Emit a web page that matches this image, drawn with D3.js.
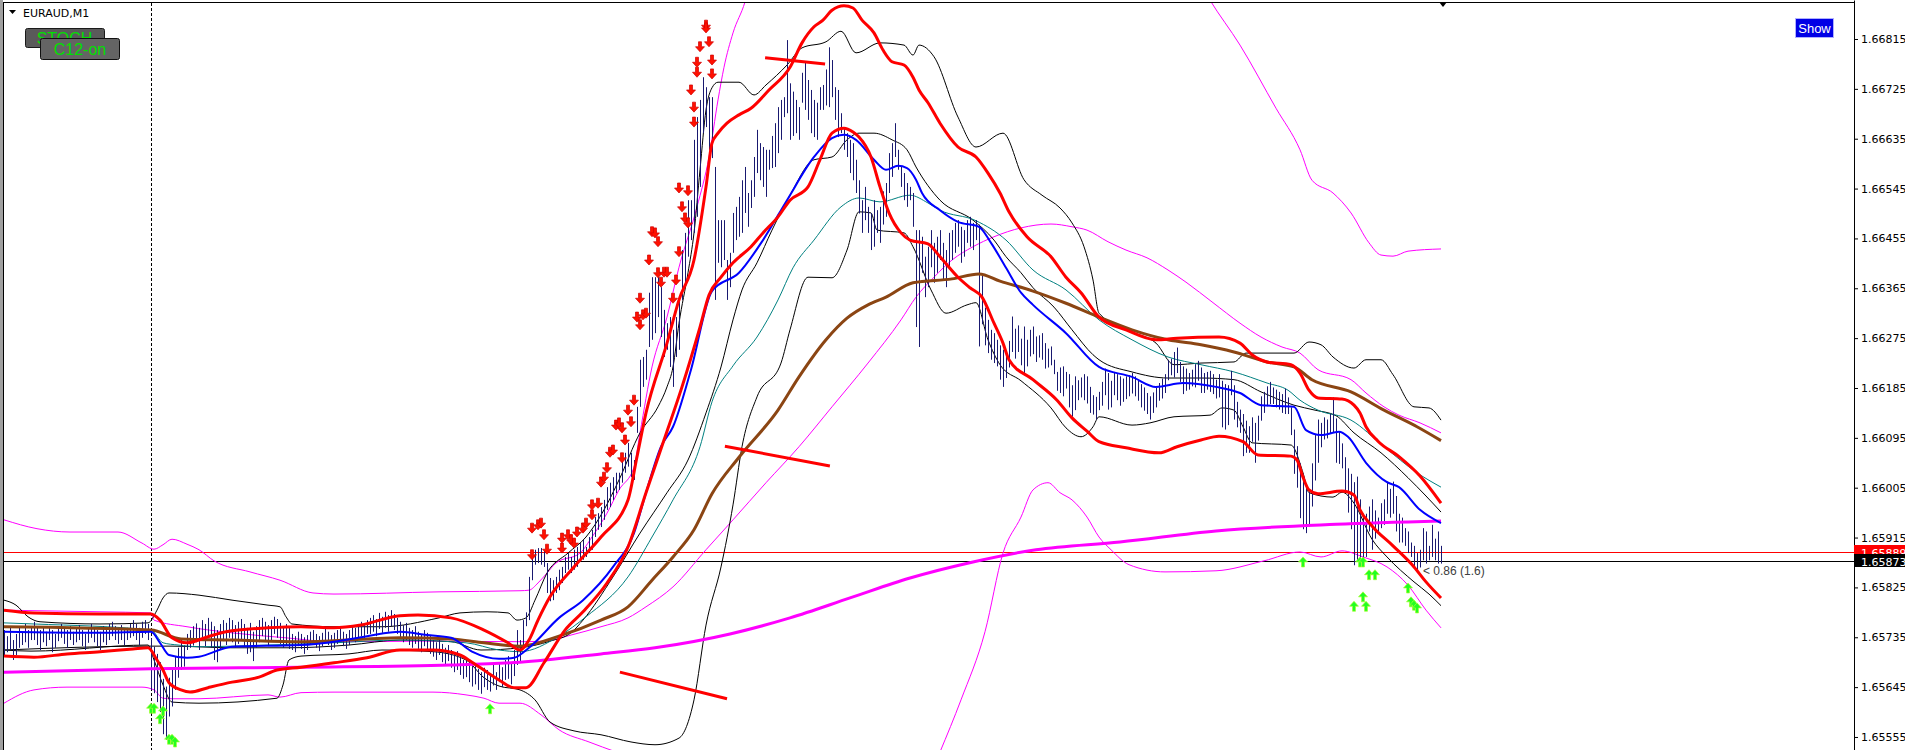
<!DOCTYPE html>
<html>
<head>
<meta charset="utf-8">
<script src="https://cdn.jsdelivr.net/npm/d3@7"></script>
<style>
  html, body { margin: 0; padding: 0; background: #fff; overflow: hidden; }
  svg { display: block; }
</style>
</head>
<body>
<svg id="chart" width="1905" height="750"></svg>
<script>
// all prices are in points above 1.65000 (1 point = 0.00001)
var BASE = 1.65;
var symbol = "EURAUD,M1";
var askPrice = 889;
var bidPrice = 873;
var separatorBar = 49;
var tickValues = [1815, 1725, 1635, 1545, 1455, 1365, 1275, 1185, 1095, 1005, 915, 825, 735, 645, 555];
var spreadText = "< 0.86 (1.6)";

// [high, low] of each M1 bar, oldest first
var bars = [
[748,700],[737,708],[752,712],[730,694],[741,703],[755,716],[745,721],[759,726],[748,716],[752,730],
[763,730],[755,721],[748,712],[752,726],[745,719],[755,730],[748,708],[741,716],[752,728],[759,734],
[752,723],[748,716],[755,730],[745,721],[752,726],[757,730],[748,719],[741,712],[752,725],[759,734],
[752,726],[748,719],[745,712],[755,726],[752,721],[759,730],[763,737],[755,730],[752,723],[757,730],
[748,721],[752,730],[759,734],[766,737],[759,730],[752,721],[763,734],[766,741],[759,730],[733,640],
[718,634],[705,618],[690,600],[660,560],[646,550],[662,592],[680,610],[700,640],[716,662],[730,676],
[720,682],[741,712],[748,716],[755,720],[760,726],[752,712],[766,730],[759,719],[770,737],[763,716],
[755,694],[748,690],[759,712],[766,728],[761,721],[770,734],[766,726],[757,716],[763,723],[768,730],
[759,719],[752,705],[761,708],[745,692],[755,716],[766,726],[770,737],[763,728],[757,719],[766,730],
[772,741],[768,734],[761,723],[755,716],[759,721],[752,714],[741,712],[737,708],[745,719],[741,714],
[735,705],[739,712],[745,721],[748,726],[741,716],[737,710],[743,719],[750,726],[745,721],[739,712],
[743,716],[748,723],[752,728],[745,719],[741,714],[748,721],[755,730],[752,726],[759,734],[763,737],
[757,730],[766,741],[770,741],[775,745],[768,737],[779,750],[772,743],[781,752],[775,745],[784,755],
[777,748],[770,741],[763,734],[757,726],[761,730],[752,721],[748,716],[755,723],[745,714],[741,708],
[748,719],[743,712],[737,705],[730,700],[726,694],[733,703],[723,690],[716,685],[721,692],[712,680],
[705,672],[710,676],[701,667],[694,660],[699,663],[690,654],[683,646],[687,650],[678,640],[672,633],
[680,645],[676,640],[667,637],[685,648],[672,640],[690,654],[681,645],[694,658],[701,660],[690,650],
[712,665],[748,685],[730,690],[766,716],[780,755],[844,766],[884,838],[893,866],[896,869],[896,866],
[893,862],[869,815],[842,800],[838,802],[844,815],[857,820],[862,833],[880,851],[887,857],[880,851],
[893,857],[898,862],[905,875],[911,875],[898,880],[916,887],[929,893],[952,916],[959,929],[970,934],
[983,947],[1006,965],[1014,970],[1024,983],[1032,995],[1032,1001],[1055,1014],[1068,1032],[1086,1043],[1068,1024],
[1055,1019],[1151,1104],[1236,1151],[1241,1187],[1254,1200],[1357,1259],[1385,1272],[1385,1284],[1385,1313],[1367,1277],
[1326,1241],[1302,1254],[1313,1223],[1290,1187],[1313,1241],[1349,1254],[1434,1344],[1465,1375],[1524,1422],[1524,1452],
[1633,1465],[1674,1494],[1705,1548],[1746,1645],[1728,1656],[1710,1615],[1710,1600],[1584,1344],[1488,1411],[1488,1403],
[1488,1416],[1416,1344],[1429,1367],[1501,1429],[1512,1452],[1530,1458],[1560,1465],[1584,1501],[1537,1476],[1560,1510],
[1602,1530],[1651,1573],[1627,1560],[1620,1548],[1615,1530],[1615,1579],[1640,1582],[1663,1584],[1692,1609],[1705,1633],
[1710,1674],[1813,1681],[1735,1633],[1720,1640],[1705,1645],[1692,1633],[1754,1700],[1772,1687],[1741,1669],[1723,1645],
[1705,1638],[1700,1633],[1728,1687],[1732,1687],[1760,1695],[1800,1692],[1777,1710],[1728,1669],[1723,1638],[1681,1645],
[1656,1615],[1645,1602],[1633,1573],[1627,1560],[1597,1537],[1560,1500],[1524,1465],[1548,1488],[1512,1465],[1501,1434],
[1524,1440],[1506,1465],[1512,1447],[1540,1480],[1555,1494],[1609,1537],[1627,1566],[1663,1602],[1615,1579],[1584,1548],
[1573,1524],[1555,1512],[1548,1524],[1537,1476],[1470,1295],[1470,1259],[1458,1393],[1422,1349],[1440,1367],[1470,1403],
[1447,1375],[1458,1393],[1470,1416],[1447,1380],[1434,1367],[1465,1403],[1470,1416],[1483,1429],[1488,1440],[1476,1411],
[1470,1422],[1488,1447],[1494,1440],[1483,1434],[1488,1452],[1480,1260],[1392,1300],[1330,1262],[1308,1248],[1290,1236],
[1284,1230],[1272,1224],[1262,1200],[1254,1187],[1245,1203],[1270,1222],[1314,1250],[1292,1238],[1298,1250],[1274,1226],
[1296,1208],[1272,1224],[1290,1242],[1296,1246],[1278,1232],[1280,1240],[1284,1236],[1266,1220],[1256,1222],[1260,1226],
[1236,1210],[1214,1180],[1222,1176],[1224,1170],[1214,1184],[1210,1150],[1190,1133],[1206,1145],[1199,1163],[1204,1168],
[1210,1163],[1206,1157],[1187,1140],[1172,1137],[1169,1128],[1178,1145],[1196,1153],[1220,1172],[1212,1146],[1198,1150],
[1214,1172],[1210,1163],[1206,1153],[1202,1160],[1206,1165],[1208,1170],[1212,1175],[1206,1170],[1200,1162],[1192,1150],
[1186,1144],[1176,1138],[1170,1128],[1177,1140],[1185,1150],[1194,1162],[1202,1166],[1210,1176],[1236,1199],[1238,1208],
[1250,1204],[1258,1212],[1232,1196],[1224,1174],[1220,1180],[1212,1182],[1218,1188],[1228,1186],[1234,1198],[1222,1176],
[1212,1176],[1214,1182],[1216,1178],[1210,1174],[1200,1166],[1210,1168],[1198,1114],[1192,1110],[1190,1118],[1216,1172],
[1190,1128],[1160,1114],[1146,1104],[1138,1062],[1126,1068],[1116,1068],[1132,1088],[1122,1050],[1135,1090],[1170,1126],
[1178,1140],[1188,1152],[1196,1156],[1186,1156],[1182,1150],[1178,1146],[1174,1140],[1184,1138],[1168,1138],[1150,1100],
[1110,1030],[1080,1005],[1049,950],[1030,930],[1010,923],[998,935],[1049,971],[1100,1018],[1128,1050],[1122,1078],
[1132,1092],[1128,1094],[1138,1102],[1168,1104],[1130,1050],[1106,1048],[1085,1040],[1060,1000],[1040,960],[1030,930],
[1015,865],[1025,874],[984,868],[958,874],[958,880],[971,926],[984,893],[964,913],[951,926],[977,932],
[984,938],[1016,958],[1003,951],[1016,958],[990,926],[958,906],[951,906],[932,900],[926,887],[906,880],
[900,861],[887,855],[893,861],[932,874],[926,868],[900,874],[938,880],[913,874],[926,868],[900,868]
];

// indicator lines as [bar, price] points
var ma200 = [[0,672],[49,678],[99,681],[149,685],[172,690],[199,705],[217,716],[242,741],[262,770],[282,806],[302,842],[323,871],[344,893],[372,907],[404,927],[444,939],[479,945]];

var maSlow = [[0,754],[49,748],[59,732],[76,730],[99,727],[121,732],[132,734],[149,732],[160,725],[172,719],[185,737],[199,766],[208,790],[216,838],[223,880],[230,929],[236,994],[245,1060],[258,1145],[265,1205],[274,1272],[281,1311],[288,1335],[294,1349],[303,1375],[316,1382],[325,1391],[332,1378],[343,1360],[354,1338],[365,1313],[376,1290],[388,1272],[399,1263],[410,1250],[421,1232],[430,1223],[436,1200],[449,1178],[460,1145],[471,1115],[479,1090]];

var maFast = [[0,745],[32,743],[49,745],[52,725],[55,703],[61,698],[65,700],[76,718],[99,721],[110,727],[121,737],[132,745],[141,739],[149,734],[156,709],[165,696],[170,698],[175,716],[185,770],[193,802],[203,862],[210,923],[214,996],[219,1079],[223,1115],[229,1218],[236,1360],[245,1393],[253,1452],[261,1524],[270,1602],[276,1636],[280,1642],[284,1633],[290,1597],[294,1579],[298,1586],[301,1582],[304,1561],[306,1537],[312,1506],[318,1485],[325,1476],[329,1447],[334,1402],[339,1357],[343,1335],[354,1284],[365,1223],[376,1205],[384,1187],[393,1194],[404,1187],[412,1176],[419,1154],[430,1151],[434,1109],[439,1100],[445,1106],[448,1097],[454,1050],[461,1015],[465,1006],[472,965],[479,941]];

var maMid = [[0,761],[10,759],[49,748],[53,725],[58,721],[65,718],[88,721],[110,725],[132,730],[154,725],[165,712],[172,709],[185,737],[194,772],[208,844],[216,916],[223,983],[232,1079],[236,1160],[243,1225],[251,1277],[258,1344],[263,1402],[270,1452],[279,1512],[285,1528],[292,1521],[302,1533],[308,1519],[312,1506],[324,1487],[334,1452],[343,1398],[354,1362],[365,1308],[376,1272],[388,1241],[399,1227],[410,1214],[421,1194],[428,1181],[432,1163],[438,1145],[449,1127],[460,1079],[471,1032],[479,1006]];

var redUpper = [[0,784],[10,779],[32,777],[49,777],[52,766],[56,734],[61,725],[68,736],[74,745],[88,752],[99,754],[110,752],[119,757],[132,774],[138,775],[149,770],[160,748],[168,725],[172,712],[175,730],[178,766],[182,808],[190,862],[199,916],[208,983],[211,1061],[214,1140],[221,1266],[225,1344],[230,1416],[234,1548],[236,1627],[238,1645],[241,1663],[245,1678],[249,1690],[255,1723],[262,1764],[266,1808],[270,1837],[273,1849],[276,1867],[280,1875],[283,1871],[286,1849],[290,1826],[293,1795],[296,1774],[300,1768],[303,1746],[305,1723],[308,1700],[312,1663],[318,1620],[324,1602],[328,1573],[332,1537],[335,1503],[341,1458],[349,1422],[354,1385],[359,1357],[365,1313],[374,1290],[384,1272],[391,1275],[405,1277],[412,1266],[416,1245],[421,1232],[429,1227],[432,1212],[435,1181],[438,1167],[446,1165],[450,1154],[452,1140],[454,1115],[458,1089],[465,1061],[472,1026],[479,977]];

var redLower = [[0,701],[10,699],[21,705],[32,709],[43,714],[48,716],[51,694],[53,676],[55,653],[59,640],[62,636],[68,644],[76,654],[85,663],[91,676],[99,681],[110,689],[121,698],[132,712],[143,712],[152,703],[156,690],[161,672],[165,658],[170,644],[174,644],[180,689],[187,748],[193,781],[201,833],[208,898],[214,996],[220,1091],[226,1187],[232,1295],[235,1353],[239,1385],[243,1411],[249,1440],[253,1465],[258,1494],[262,1524],[268,1548],[272,1597],[276,1645],[280,1654],[283,1647],[285,1638],[289,1602],[292,1548],[295,1501],[299,1465],[302,1452],[308,1445],[312,1422],[318,1385],[322,1366],[326,1349],[330,1302],[333,1266],[335,1236],[343,1200],[351,1163],[356,1131],[361,1107],[365,1088],[374,1077],[385,1068],[391,1079],[399,1091],[405,1098],[413,1088],[418,1064],[429,1062],[431,1055],[433,1024],[435,1001],[438,994],[446,999],[450,992],[452,965],[456,936],[463,900],[470,862],[474,835],[479,806]];

var bandUpper = [[0,802],[4,793],[8,772],[12,763],[32,759],[48,761],[51,784],[53,806],[55,815],[65,811],[76,802],[88,793],[92,790],[94,772],[96,759],[110,754],[126,754],[145,770],[152,779],[161,781],[168,779],[171,766],[174,770],[177,802],[181,851],[188,887],[194,916],[200,965],[205,1019],[212,1104],[218,1151],[221,1187],[223,1223],[225,1302],[228,1393],[230,1465],[232,1579],[234,1687],[236,1727],[238,1737],[245,1737],[250,1714],[254,1732],[261,1768],[266,1799],[274,1810],[279,1829],[284,1790],[292,1808],[300,1804],[303,1786],[305,1804],[310,1783],[318,1674],[324,1620],[333,1645],[340,1561],[346,1533],[352,1510],[356,1483],[360,1440],[363,1380],[365,1320],[376,1286],[384,1266],[390,1227],[399,1230],[410,1232],[414,1248],[430,1248],[435,1268],[439,1263],[443,1241],[450,1221],[454,1236],[459,1236],[463,1209],[470,1151],[475,1149],[479,1127]];

var bandMid = [[0,712],[48,719],[56,719],[76,716],[95,716],[115,721],[132,730],[149,727],[159,712],[172,716],[182,728],[189,743],[193,766],[203,844],[212,923],[221,996],[228,1055],[234,1140],[239,1223],[243,1308],[246,1362],[251,1411],[256,1470],[262,1533],[270,1597],[276,1602],[281,1633],[285,1645],[290,1645],[296,1633],[301,1615],[304,1584],[312,1524],[323,1488],[330,1452],[334,1422],[339,1393],[343,1366],[350,1331],[356,1290],[363,1245],[365,1236],[376,1214],[388,1203],[399,1203],[410,1200],[419,1178],[430,1154],[437,1145],[444,1135],[450,1104],[459,1068],[468,1023],[474,990],[479,961]];

var bandLower = [[0,712],[9,710],[48,721],[50,694],[53,649],[56,618],[65,616],[91,625],[93,649],[95,694],[99,701],[115,705],[126,712],[143,709],[154,694],[160,662],[165,647],[172,640],[177,622],[182,582],[190,566],[199,559],[209,546],[217,541],[225,553],[230,622],[234,757],[239,862],[243,974],[246,1079],[251,1169],[259,1230],[262,1290],[268,1385],[276,1384],[281,1434],[285,1503],[289,1501],[291,1470],[300,1465],[303,1440],[309,1362],[314,1320],[321,1335],[324,1339],[328,1272],[332,1227],[339,1198],[349,1149],[354,1113],[359,1097],[363,1115],[365,1133],[376,1118],[382,1122],[390,1133],[402,1136],[406,1149],[410,1145],[413,1115],[416,1086],[429,1082],[433,1032],[435,996],[443,988],[446,997],[450,977],[456,912],[461,880],[470,835],[475,813],[479,792]];

var envOuter = [[0,947],[11,931],[22,925],[38,925],[46,905],[50,894],[53,902],[56,912],[61,903],[65,893],[70,873],[82,853],[92,838],[103,815],[110,813],[145,817],[172,819],[175,820],[178,833],[181,851],[184,869],[192,887],[196,916],[201,959],[205,1001],[210,1042],[212,1104],[216,1223],[221,1313],[225,1403],[231,1512],[235,1602],[238,1705],[240,1764],[243,1826],[247,1882],[249,1922],
  null,
  [400,1903],[402,1885],[412,1804],[424,1690],[432,1615],[436,1560],[443,1537],[449,1501],[455,1447],[459,1425],[463,1423],[468,1432],[479,1436]];

var envInner = [[0,784],[10,783],[32,781],[49,779],[50,766],[61,754],[76,743],[94,734],[110,727],[143,728],[172,727],[180,728],[189,739],[199,754],[208,770],[214,790],[223,826],[234,893],[243,947],[254,1014],[265,1079],[276,1151],[288,1230],[299,1308],[304,1349],[310,1385],[316,1416],[323,1440],[330,1458],[339,1474],[349,1481],[356,1476],[361,1470],[368,1449],[374,1434],[381,1420],[388,1398],[394,1376],[403,1339],[412,1302],[419,1277],[426,1259],[432,1248],[438,1218],[449,1200],[454,1176],[460,1151],[465,1136],[472,1122],[479,1104]];

var envLower = [[0,616],[10,640],[21,645],[32,645],[46,645],[50,640],[53,625],[56,624],[65,624],[88,631],[92,627],[99,635],[110,636],[143,636],[154,631],[160,625],[165,616],[172,616],[179,595],[185,568],[195,546],[204,528],
  null,
  [312,528],[319,622],[327,745],[333,887],[339,952],[343,1001],[348,1014],[352,996],[356,983],[361,952],[365,916],[369,893],[375,866],[387,853],[404,855],[420,873],[432,889],[439,880],[446,891],[453,880],[461,862],[468,829],[474,784],[479,752]];

// hand drawn trend lines
var trendLines = [
  [[253.7,1781],[273.7,1770]],
  [[240.3,1080],[275.3,1044]],
  [[205.3,672],[241,624]]
];

// signal arrows [bar, price]
var sellArrows = [[176,932],[178,938],[179,941],[180,920],[176,884],[181,894],[186,896],[186,914],[188,920],[189,911],[190,905],[191,925],[193,932],[194,941],[196,956],[196,974],[198,977],[199,1015],[200,1024],[201,1041],[202,1069],[203,1073],[206,1059],[207,1091],[204,1118],[205,1122],[206,1113],[208,1145],[209,1124],[210,1163],[212,1347],[211,1313],[212,1299],[213,1317],[214,1320],[215,1416],[218,1393],[220,1394],[221,1394],[219,1376],[224,1380],[223,1347],[225,1431],[216,1467],[217,1465],[218,1449],[226,1512],[227,1492],[228,1483],[234,1840],[234,1835],[232,1801],[235,1810],[231,1773],[236,1777],[231,1755],[236,1752],[229,1723],[230,1692],[230,1665],[225,1546],[228,1541]];

var buyArrows = [[49,616],[50,616],[53,611],[52,597],[55,560],[56,560],[57,555],[162,615],[433,880],[452,880],[453,880],[455,857],[457,857],[453,817],[450,800],[454,800],[468,833],[469,808],[470,802],[471,797]];


var width = 1905, height = 750;
var axisX = 1854;

var svg = d3.select("#chart");

var x = d3.scaleLinear().domain([0, 479]).range([4, 1441]);
var y = d3.scaleLinear().domain([531.5, 1885.4]).range([height, 0]);

function priceText(v) {
    return (BASE + v / 1e5).toFixed(5);
}

svg.append("defs").append("clipPath").attr("id", "plotclip")
    .append("rect").attr("x", 4).attr("y", 3).attr("width", axisX - 4).attr("height", height - 3);

// window frame
svg.append("rect").attr("x", 0).attr("y", 0).attr("width", 3).attr("height", height).attr("fill", "#a0a0a0");
svg.append("line").attr("x1", 3.5).attr("x2", 3.5).attr("y1", 2).attr("y2", height).attr("stroke", "#000");
svg.append("line").attr("x1", 3).attr("x2", axisX).attr("y1", 2.5).attr("y2", 2.5).attr("stroke", "#000");

var plot = svg.append("g").attr("clip-path", "url(#plotclip)");

// period separator
plot.append("line")
    .attr("x1", Math.round(x(separatorBar)) + 0.5).attr("x2", Math.round(x(separatorBar)) + 0.5)
    .attr("y1", 3).attr("y2", height)
    .attr("stroke", "#000").attr("stroke-dasharray", "3,2");

// ask / bid lines
plot.append("line")
    .attr("x1", 4).attr("x2", axisX)
    .attr("y1", Math.round(y(askPrice)) + 0.5).attr("y2", Math.round(y(askPrice)) + 0.5)
    .attr("stroke", "#ff0000");
plot.append("line")
    .attr("x1", 4).attr("x2", axisX)
    .attr("y1", Math.round(y(bidPrice)) + 0.5).attr("y2", Math.round(y(bidPrice)) + 0.5)
    .attr("stroke", "#000");

var lineGen = d3.line()
    .defined(function(d) { return d !== null; })
    .x(function(d) { return x(d[0]); })
    .y(function(d) { return y(d[1]); })
    .curve(d3.curveMonotoneX);

function addLine(data, color, w) {
    plot.append("path")
        .datum(data)
        .attr("d", lineGen)
        .attr("fill", "none")
        .attr("stroke", color)
        .attr("stroke-width", w)
        .attr("stroke-linejoin", "round");
}

addLine(envOuter, "#ff00ff", 1);
addLine(envInner, "#ff00ff", 1);
addLine(envLower, "#ff00ff", 1);
addLine(bandUpper, "#000", 1);
addLine(bandMid, "#000", 1);
addLine(bandLower, "#000", 1);
addLine(maMid, "#008080", 1);

// price bars
plot.selectAll(".bar")
    .data(bars)
    .join("line")
    .attr("class", "bar")
    .attr("x1", function(d, i) { return Math.round(x(i)) + 0.5; })
    .attr("x2", function(d, i) { return Math.round(x(i)) + 0.5; })
    .attr("y1", function(d) { return y(d[0]); })
    .attr("y2", function(d) { return y(d[1]); })
    .attr("stroke", "#191970")
    .attr("stroke-width", 1);

addLine(maSlow, "#8b4513", 3);
addLine(ma200, "#ff00ff", 3);
addLine(maFast, "#0000ff", 2);
addLine(redUpper, "#ff0000", 3);
addLine(redLower, "#ff0000", 3);

trendLines.forEach(function(t) {
    plot.append("path")
        .datum(t)
        .attr("d", d3.line().x(function(d) { return x(d[0]); }).y(function(d) { return y(d[1]); }))
        .attr("stroke", "#ff0000")
        .attr("stroke-width", 3)
        .attr("fill", "none");
});

// arrows
plot.selectAll(".sell")
    .data(sellArrows)
    .join("path")
    .attr("class", "sell")
    .attr("transform", function(d) { return "translate(" + x(d[0]) + "," + y(d[1]) + ")"; })
    .attr("d", "M-1.5,-5H1.5V0H4.5L0,5L-4.5,0H-1.5Z")
    .attr("fill", "#ff1000")
    .attr("stroke", "#d00000")
    .attr("stroke-width", 0.7);

plot.selectAll(".buy")
    .data(buyArrows)
    .join("path")
    .attr("class", "buy")
    .attr("transform", function(d) { return "translate(" + x(d[0]) + "," + y(d[1]) + ")"; })
    .attr("d", "M0,0L4.5,5H1.5V10H-1.5V5H-4.5Z")
    .attr("fill", "#22ff22")
    .attr("stroke", "#a8ff30")
    .attr("stroke-width", 0.7);

// spread label next to last bar
plot.append("text")
    .attr("x", x(479) - 18)
    .attr("y", y(bidPrice) + 14)
    .attr("font-family", "Liberation Sans, Arial, sans-serif")
    .attr("font-size", 12)
    .attr("fill", "#404040")
    .text(spreadText);

// chart shift marker
svg.append("path")
    .attr("transform", "translate(" + (x(479) + 2) + ",2)")
    .attr("d", "M-4,0H4L0,5Z")
    .attr("fill", "#000");

// price axis
var yAxis = d3.axisRight(y)
    .tickValues(tickValues)
    .tickFormat(priceText)
    .tickSize(4)
    .tickSizeOuter(0)
    .tickPadding(3);

var axisG = svg.append("g")
    .attr("transform", "translate(" + axisX + ",0)")
    .call(yAxis);
axisG.selectAll("text")
    .attr("font-family", "DejaVu Sans, sans-serif")
    .attr("font-size", 11)
    .attr("fill", "#000");
axisG.select(".domain").attr("stroke", "#000");
axisG.selectAll(".tick line").attr("stroke", "#000");

function priceTag(v, color) {
    var g = svg.append("g").attr("transform", "translate(" + axisX + "," + Math.round(y(v)) + ")");
    g.append("rect").attr("x", 0).attr("y", -7).attr("width", 51).attr("height", 13).attr("fill", color);
    g.append("text").attr("x", 7).attr("y", 4.5)
        .attr("font-family", "DejaVu Sans, sans-serif").attr("font-size", 11)
        .attr("fill", "#fff").text(priceText(v));
}
priceTag(askPrice, "#ff0000");
priceTag(bidPrice, "#000");

// symbol title
svg.append("path").attr("d", "M9,10H16L12.5,14Z").attr("fill", "#000");
svg.append("text")
    .attr("x", 23).attr("y", 17)
    .attr("font-family", "DejaVu Sans, sans-serif")
    .attr("font-size", 11)
    .attr("fill", "#000")
    .text(symbol);

// indicator buttons
svg.append("rect").attr("x", 25.5).attr("y", 28.5).attr("width", 79).attr("height", 19).attr("rx", 2)
    .attr("fill", "#5a5a5a").attr("stroke", "#1a1a1a");
svg.append("text").attr("x", 64.5).attr("y", 44).attr("text-anchor", "middle")
    .attr("font-family", "Liberation Sans, Arial, sans-serif").attr("font-size", 16)
    .attr("fill", "#00e000").text("STOCH");
svg.append("rect").attr("x", 40.5).attr("y", 38.5).attr("width", 79).attr("height", 21).attr("rx", 2)
    .attr("fill", "#646464").attr("stroke", "#111");
svg.append("text").attr("x", 80).attr("y", 55).attr("text-anchor", "middle")
    .attr("font-family", "Liberation Sans, Arial, sans-serif").attr("font-size", 16)
    .attr("fill", "#00e000").text("C12-on");

svg.append("rect").attr("x", 1795.5).attr("y", 18.5).attr("width", 38).attr("height", 19)
    .attr("fill", "#0000e6").attr("stroke", "#b0b0ff");
svg.append("text").attr("x", 1814.5).attr("y", 32.5).attr("text-anchor", "middle")
    .attr("font-family", "Liberation Sans, Arial, sans-serif").attr("font-size", 13)
    .attr("fill", "#fff").text("Show");
</script>
</body>
</html>
